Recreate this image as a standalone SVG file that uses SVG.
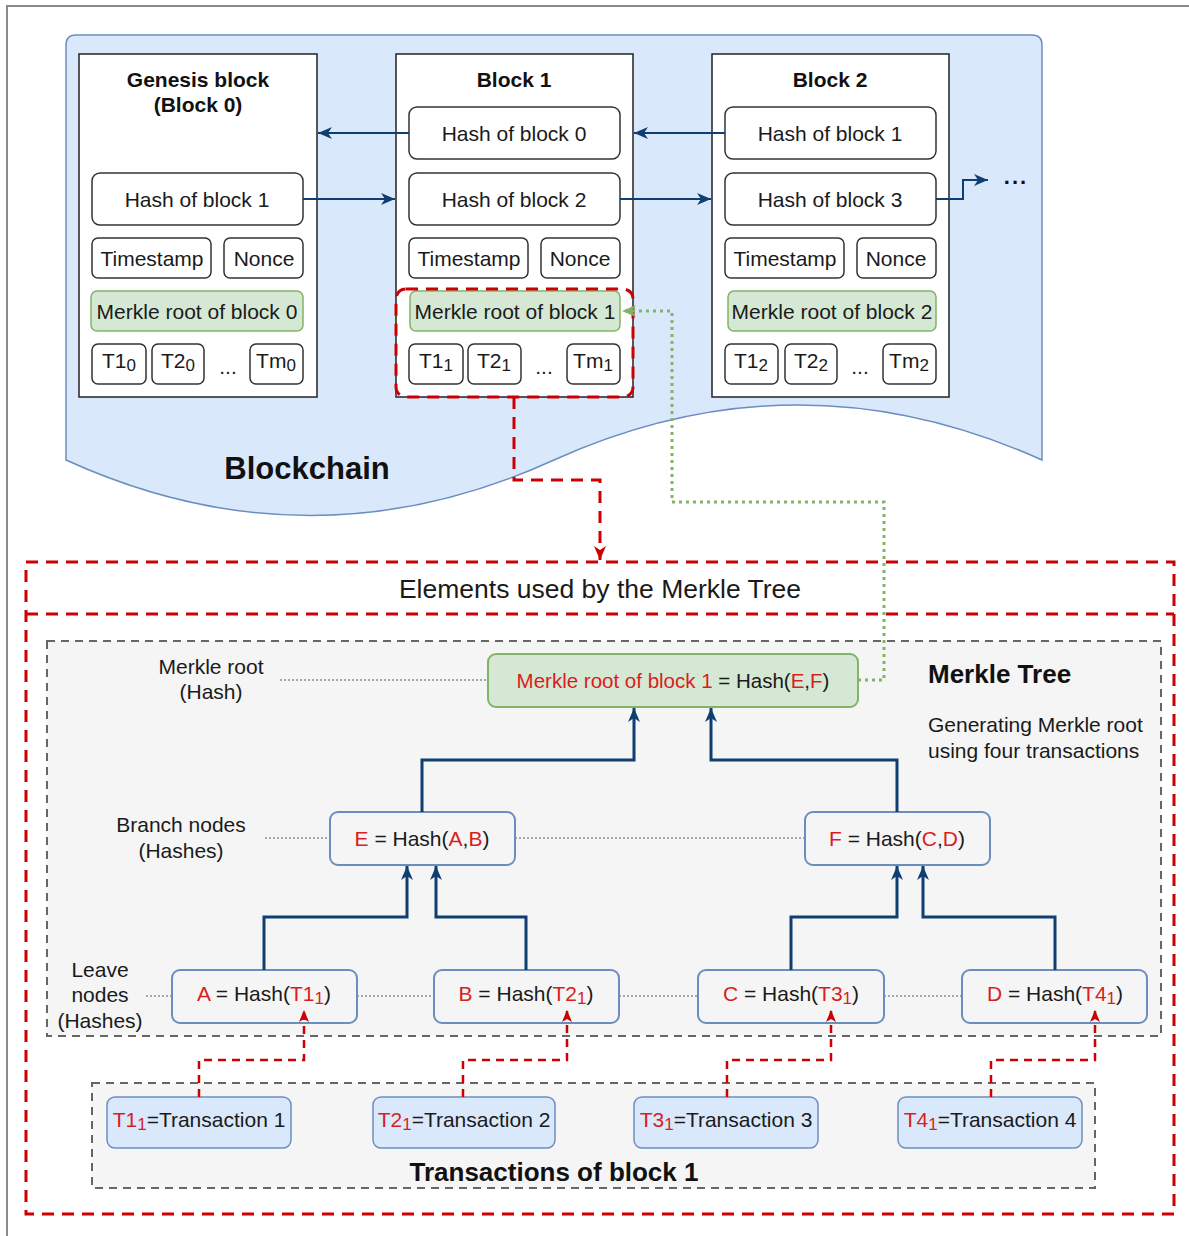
<svg xmlns="http://www.w3.org/2000/svg" width="1189" height="1236" viewBox="0 0 1189 1236">
  <style>
    .t { font-family: "Liberation Sans", Arial, Helvetica, sans-serif; font-size: 21px; fill: #1a1a1a; text-anchor: middle; dominant-baseline: central; }
    .b { font-weight: bold; fill: #111; }
    .lft { text-anchor: start; }
    .red { fill: #d81e1e; }
    .sub { font-size: 17px; }
    .blk { fill: #ffffff; stroke: #222; stroke-width: 1.5; }
    .fld { fill: #ffffff; stroke: #333; stroke-width: 1.5; }
    .mr { fill: #d5e8d4; stroke: #82b366; stroke-width: 1.5; }
    .hn { fill: none; stroke: #6c8ebf; stroke-width: 2; }
    .tx { fill: #dae8fc; stroke: #6c8ebf; stroke-width: 1.5; }
    .grp { fill: #f5f5f5; stroke: #666; stroke-width: 2; stroke-dasharray: 8 6; }
    .link { fill: none; stroke: #0f3f70; stroke-width: 2; }
    .tree { fill: none; stroke: #0f3f70; stroke-width: 3; }
    .rdash { fill: none; stroke: #cc0000; stroke-width: 3; stroke-dasharray: 12 8; }
    .rthin { fill: none; stroke: #cc0000; stroke-width: 2.5; stroke-dasharray: 8 6; }
    .gdot { fill: none; stroke: #82b366; stroke-width: 3; stroke-dasharray: 3 4; }
    .guide { fill: none; stroke: #a8a8a8; stroke-width: 2; stroke-dasharray: 2 2; }
  </style>
  <defs>
    <marker id="arrBlue" markerUnits="userSpaceOnUse" markerWidth="14" markerHeight="12" refX="14" refY="6" orient="auto">
      <path d="M0,0 L14,6 L0,12 L4,6 Z" fill="#0f3f70"/>
    </marker>
    <marker id="arrRed" markerUnits="userSpaceOnUse" markerWidth="14" markerHeight="12" refX="14" refY="6" orient="auto">
      <path d="M0,0 L14,6 L0,12 L4,6 Z" fill="#cc0000"/>
    </marker>
    <marker id="arrRedS" markerUnits="userSpaceOnUse" markerWidth="12" markerHeight="10" refX="12" refY="5" orient="auto">
      <path d="M0,0 L12,5 L0,10 L3,5 Z" fill="#cc0000"/>
    </marker>
    <marker id="arrGreen" markerUnits="userSpaceOnUse" markerWidth="14" markerHeight="12" refX="14" refY="6" orient="auto">
      <path d="M0,0 L14,6 L0,12 L4,6 Z" fill="#82b366"/>
    </marker>
  </defs>

  <rect width="1189" height="1236" fill="#ffffff"/>
  <!-- page frame -->
  <path d="M7,1236 V6 H1189" fill="none" stroke="#8a8a8a" stroke-width="2"/>

  <!-- blockchain band -->
  <g id="blockchain">
    <path d="M76,35 H1032 Q1042,35 1042,45 V460 Q798,350 554,460 Q310,571 66,460 V45 Q66,35 76,35 Z" fill="#dae8fc" stroke="#6c8ebf" stroke-width="1.5"/>
    <text class="t b" x="307" y="468" style="font-size:31px">Blockchain</text>
  </g>

  <!-- genesis block -->
  <g id="block0">
    <rect class="blk" x="79" y="54" width="238" height="343"/>
    <text class="t b" x="198" y="79" style="font-size:21px">Genesis block</text>
    <text class="t b" x="198" y="104" style="font-size:21px">(Block 0)</text>
    <rect class="fld" x="92" y="173" width="211" height="52" rx="8"/>
    <text class="t" x="197" y="199">Hash of block 1</text>
    <rect class="fld" x="92" y="238" width="119" height="40" rx="6"/>
    <text class="t" x="152" y="258">Timestamp</text>
    <rect class="fld" x="224" y="238" width="79" height="40" rx="6"/>
    <text class="t" x="264" y="258">Nonce</text>
    <rect class="mr" x="91" y="291" width="212" height="40" rx="6"/>
    <text class="t" x="197" y="311">Merkle root of block 0</text>
    <rect class="fld" x="92" y="344" width="54" height="40" rx="6"/>
    <text class="t" x="119" y="360">T1<tspan class="sub" dy="5">0</tspan></text>
    <rect class="fld" x="152" y="344" width="52" height="40" rx="6"/>
    <text class="t" x="178" y="360">T2<tspan class="sub" dy="5">0</tspan></text>
    <text class="t" x="228" y="366">...</text>
    <rect class="fld" x="250" y="344" width="53" height="40" rx="6"/>
    <text class="t" x="276" y="360">Tm<tspan class="sub" dy="5">0</tspan></text>
  </g>

  <!-- block 1 -->
  <g id="block1">
    <rect class="blk" x="396" y="54" width="237" height="343"/>
    <text class="t b" x="514" y="79" style="font-size:21px">Block 1</text>
    <rect class="fld" x="409" y="107" width="211" height="52" rx="8"/>
    <text class="t" x="514" y="133">Hash of block 0</text>
    <rect class="fld" x="409" y="173" width="211" height="52" rx="8"/>
    <text class="t" x="514" y="199">Hash of block 2</text>
    <rect class="fld" x="409" y="238" width="119" height="40" rx="6"/>
    <text class="t" x="469" y="258">Timestamp</text>
    <rect class="fld" x="541" y="238" width="79" height="40" rx="6"/>
    <text class="t" x="580" y="258">Nonce</text>
    <rect class="mr" x="410" y="291" width="210" height="40" rx="6"/>
    <text class="t" x="515" y="311">Merkle root of block 1</text>
    <rect class="fld" x="409" y="344" width="54" height="40" rx="6"/>
    <text class="t" x="436" y="360">T1<tspan class="sub" dy="5">1</tspan></text>
    <rect class="fld" x="468" y="344" width="53" height="40" rx="6"/>
    <text class="t" x="494" y="360">T2<tspan class="sub" dy="5">1</tspan></text>
    <text class="t" x="544" y="366">...</text>
    <rect class="fld" x="567" y="344" width="53" height="40" rx="6"/>
    <text class="t" x="593" y="360">Tm<tspan class="sub" dy="5">1</tspan></text>
  </g>

  <!-- block 2 -->
  <g id="block2">
    <rect class="blk" x="712" y="54" width="237" height="343"/>
    <text class="t b" x="830" y="79" style="font-size:21px">Block 2</text>
    <rect class="fld" x="725" y="107" width="211" height="52" rx="8"/>
    <text class="t" x="830" y="133">Hash of block 1</text>
    <rect class="fld" x="725" y="173" width="211" height="52" rx="8"/>
    <text class="t" x="830" y="199">Hash of block 3</text>
    <rect class="fld" x="725" y="238" width="119" height="40" rx="6"/>
    <text class="t" x="785" y="258">Timestamp</text>
    <rect class="fld" x="857" y="238" width="79" height="40" rx="6"/>
    <text class="t" x="896" y="258">Nonce</text>
    <rect class="mr" x="728" y="291" width="208" height="40" rx="6"/>
    <text class="t" x="832" y="311">Merkle root of block 2</text>
    <rect class="fld" x="725" y="344" width="53" height="40" rx="6"/>
    <text class="t" x="751" y="360">T1<tspan class="sub" dy="5">2</tspan></text>
    <rect class="fld" x="785" y="344" width="52" height="40" rx="6"/>
    <text class="t" x="811" y="360">T2<tspan class="sub" dy="5">2</tspan></text>
    <text class="t" x="860" y="366">...</text>
    <rect class="fld" x="883" y="344" width="53" height="40" rx="6"/>
    <text class="t" x="909" y="360">Tm<tspan class="sub" dy="5">2</tspan></text>
  </g>

  <g id="more">
    <text class="t b" x="1016" y="176" style="font-size:22px;letter-spacing:2px">...</text>
  </g>

  <!-- highlighted part of block 1 -->
  <g id="block1-merkle-part">
    <rect class="rdash" x="396" y="289" width="237" height="108" rx="10"/>
  </g>

  <!-- merkle tree frame -->
  <g id="merkle-frame">
    <rect class="rdash" x="26" y="562" width="1148" height="652"/>
    <line class="rdash" x1="26" y1="614" x2="1174" y2="614"/>
    <text class="t" x="600" y="589" style="font-size:26.5px">Elements used by the Merkle Tree</text>
  </g>

  <g id="merkle-tree">
    <rect class="grp" x="47" y="641" width="1114" height="395"/>
    <text class="t b lft" x="928" y="674" style="font-size:26px">Merkle Tree</text>
    <text class="t lft" x="928" y="724">Generating Merkle root</text>
    <text class="t lft" x="928" y="750">using four transactions</text>
  </g>

  <g id="level-labels">
    <text class="t" x="211" y="666">Merkle root</text>
    <text class="t" x="211" y="691">(Hash)</text>
    <text class="t" x="181" y="824">Branch nodes</text>
    <text class="t" x="181" y="850">(Hashes)</text>
    <text class="t" x="100" y="969">Leave</text>
    <text class="t" x="100" y="994">nodes</text>
    <text class="t" x="100" y="1020">(Hashes)</text>
  </g>

  <g id="level-guides">
    <line class="guide" x1="280" y1="680" x2="488" y2="680"/>
    <line class="guide" x1="265" y1="838" x2="330" y2="838"/>
    <line class="guide" x1="515" y1="838" x2="805" y2="838"/>
    <line class="guide" x1="146" y1="996" x2="172" y2="996"/>
    <line class="guide" x1="357" y1="996" x2="434" y2="996"/>
    <line class="guide" x1="619" y1="996" x2="698" y2="996"/>
    <line class="guide" x1="884" y1="996" x2="962" y2="996"/>
  </g>

  <g id="root">
    <rect class="mr" x="488" y="654" width="370" height="53" rx="8" style="stroke-width:2"/>
    <text class="t" x="673" y="680" style="font-size:20.5px"><tspan class="red">Merkle root of block 1</tspan> = Hash(<tspan class="red">E</tspan>,<tspan class="red">F</tspan>)</text>
  </g>
  <g id="node-E">
    <rect class="hn" x="330" y="812" width="185" height="53" rx="8"/>
    <text class="t" x="422" y="838"><tspan class="red">E</tspan> = Hash(<tspan class="red">A</tspan>,<tspan class="red">B</tspan>)</text>
  </g>
  <g id="node-F">
    <rect class="hn" x="805" y="812" width="185" height="53" rx="8"/>
    <text class="t" x="897" y="838"><tspan class="red">F</tspan> = Hash(<tspan class="red">C</tspan>,<tspan class="red">D</tspan>)</text>
  </g>
  <g id="node-A">
    <rect class="hn" x="172" y="970" width="185" height="53" rx="8"/>
    <text class="t" x="264" y="993"><tspan class="red">A</tspan> = Hash(<tspan class="red">T1</tspan><tspan class="red sub" dy="5">1</tspan><tspan dy="-5">)</tspan></text>
  </g>
  <g id="node-B">
    <rect class="hn" x="434" y="970" width="185" height="53" rx="8"/>
    <text class="t" x="526" y="993"><tspan class="red">B</tspan> = Hash(<tspan class="red">T2</tspan><tspan class="red sub" dy="5">1</tspan><tspan dy="-5">)</tspan></text>
  </g>
  <g id="node-C">
    <rect class="hn" x="698" y="970" width="186" height="53" rx="8"/>
    <text class="t" x="791" y="993"><tspan class="red">C</tspan> = Hash(<tspan class="red">T3</tspan><tspan class="red sub" dy="5">1</tspan><tspan dy="-5">)</tspan></text>
  </g>
  <g id="node-D">
    <rect class="hn" x="962" y="970" width="185" height="53" rx="8"/>
    <text class="t" x="1055" y="993"><tspan class="red">D</tspan> = Hash(<tspan class="red">T4</tspan><tspan class="red sub" dy="5">1</tspan><tspan dy="-5">)</tspan></text>
  </g>

  <g id="transactions">
    <rect class="grp" x="92" y="1083" width="1003" height="105"/>
    <text class="t b" x="554" y="1172" style="font-size:26px">Transactions of block 1</text>
  </g>
  <g id="tx1">
    <rect class="tx" x="107" y="1097" width="184" height="51" rx="8"/>
    <text class="t" x="199" y="1119"><tspan class="red">T1</tspan><tspan class="red sub" dy="5">1</tspan><tspan dy="-5">=Transaction 1</tspan></text>
  </g>
  <g id="tx2">
    <rect class="tx" x="373" y="1097" width="182" height="51" rx="8"/>
    <text class="t" x="464" y="1119"><tspan class="red">T2</tspan><tspan class="red sub" dy="5">1</tspan><tspan dy="-5">=Transaction 2</tspan></text>
  </g>
  <g id="tx3">
    <rect class="tx" x="634" y="1097" width="184" height="51" rx="8"/>
    <text class="t" x="726" y="1119"><tspan class="red">T3</tspan><tspan class="red sub" dy="5">1</tspan><tspan dy="-5">=Transaction 3</tspan></text>
  </g>
  <g id="tx4">
    <rect class="tx" x="898" y="1097" width="184" height="51" rx="8"/>
    <text class="t" x="990" y="1119"><tspan class="red">T4</tspan><tspan class="red sub" dy="5">1</tspan><tspan dy="-5">=Transaction 4</tspan></text>
  </g>

  <!-- connectors -->
  <g id="connectors">
    <!-- chain links -->
    <path class="link" d="M409,133 H318" marker-end="url(#arrBlue)"/>
    <path class="link" d="M303,199 H395" marker-end="url(#arrBlue)"/>
    <path class="link" d="M725,133 H634" marker-end="url(#arrBlue)"/>
    <path class="link" d="M620,199 H711" marker-end="url(#arrBlue)"/>
    <path class="link" d="M936,199 H963 V180 H988" marker-end="url(#arrBlue)"/>

    <!-- block 1 merkle part to the tree -->
    <path class="rdash" d="M514,397 V480 H600 V560" marker-end="url(#arrRed)"/>

    <!-- tree root back to block 1 -->
    <path class="gdot" d="M858,680 H884 V502 H672 V311 H622" marker-end="url(#arrGreen)"/>

    <!-- hashing tree -->
    <path class="tree" d="M422,812 V760 H634 V708" marker-end="url(#arrBlue)"/>
    <path class="tree" d="M897,812 V760 H711 V708" marker-end="url(#arrBlue)"/>
    <path class="tree" d="M264,970 V917 H407 V866" marker-end="url(#arrBlue)"/>
    <path class="tree" d="M526,970 V917 H436 V866" marker-end="url(#arrBlue)"/>
    <path class="tree" d="M791,970 V917 H897 V866" marker-end="url(#arrBlue)"/>
    <path class="tree" d="M1055,970 V917 H923 V866" marker-end="url(#arrBlue)"/>

    <!-- transactions to leaves -->
    <path class="rthin" d="M199,1097 V1060 H304 V1010" marker-end="url(#arrRedS)"/>
    <path class="rthin" d="M463,1097 V1060 H567 V1010" marker-end="url(#arrRedS)"/>
    <path class="rthin" d="M727,1097 V1060 H831 V1010" marker-end="url(#arrRedS)"/>
    <path class="rthin" d="M991,1097 V1060 H1095 V1010" marker-end="url(#arrRedS)"/>
  </g>
</svg>
